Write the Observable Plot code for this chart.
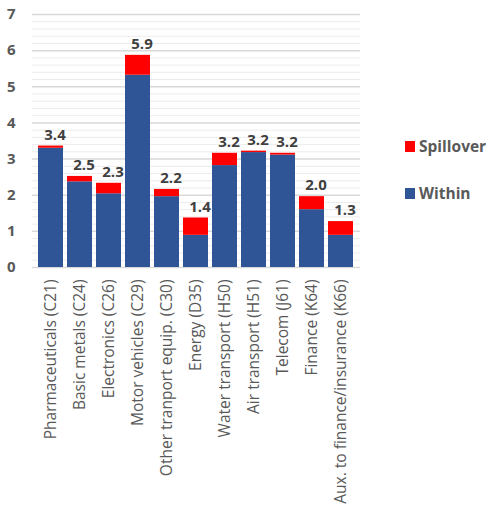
<!DOCTYPE html>
<html>
<head>
<meta charset="utf-8">
<script src="https://cdn.jsdelivr.net/npm/d3@7"></script>
<script src="https://cdn.jsdelivr.net/npm/@observablehq/plot@0.6"></script>
<style>
  html, body { margin: 0; padding: 0; background: #fff; }
  #wrap { position: relative; width: 489px; height: 509px; font-family: "Open Sans", sans-serif; overflow: hidden; }
  #legend { position: absolute; left: 405px; top: 135px; color: #595959; font-weight: bold; font-size: 15.5px; }
  #legend .item { display: flex; align-items: center; height: 22px; margin-bottom: 25px; }
  #legend .sw { width: 10px; height: 11px; margin-right: 4px; }
</style>
</head>
<body>
<div id="wrap"><div id="legend"></div></div>
<script>
const sectors = [
  "Pharmaceuticals (C21)",
  "Basic metals (C24)",
  "Electronics (C26)",
  "Motor vehicles (C29)",
  "Other tranport equip. (C30)",
  "Energy (D35)",
  "Water transport (H50)",
  "Air transport (H51)",
  "Telecom (J61)",
  "Finance (K64)",
  "Aux. to finance/insurance (K66)"
];
const within    = [3.30, 2.37, 2.04, 5.32, 1.96, 0.89, 2.82, 3.18, 3.11, 1.60, 0.89];
const spillover = [0.06, 0.15, 0.29, 0.55, 0.20, 0.48, 0.34, 0.04, 0.05, 0.36, 0.38];
const seriesNames = ["Spillover", "Within"];
const seriesColors = {Within: "#2F5597", Spillover: "#FF0000"};
const yTicks = [0, 1, 2, 3, 4, 5, 6, 7];

const rows = [
  ...sectors.map((s, i) => ({sector: s, series: "Within", value: within[i]})),
  ...sectors.map((s, i) => ({sector: s, series: "Spillover", value: spillover[i]}))
];
const totals = sectors.map((s, i) => ({sector: s, total: within[i] + spillover[i]}));
const minorTicks = d3.range(0, 35).map(k => k / 5).filter(v => !Number.isInteger(v));

const chart = Plot.plot({
  width: 489,
  height: 509,
  marginTop: 14,
  marginBottom: 242,
  marginLeft: 32,
  marginRight: 129,
  style: {fontFamily: "'Open Sans', sans-serif", background: "#fff"},
  x: {domain: sectors, padding: 0.13, label: null},
  y: {domain: [0, 7], label: null},
  color: {domain: ["Within", "Spillover"], range: [seriesColors.Within, seriesColors.Spillover]},
  marks: [
    Plot.ruleY(minorTicks, {stroke: "#ECECEC", strokeWidth: 1}),
    Plot.ruleY(yTicks, {stroke: "#D9D9D9", strokeWidth: 1.5}),
    Plot.barY(rows, {x: "sector", y: "value", fill: "series"}),
    Plot.text(totals, {
      x: "sector", y: "total", text: d => d.total.toFixed(1),
      dy: -11, dx: 4, fontSize: 15, fontWeight: "bold", fill: "#404040"
    }),
    Plot.axisY({
      ticks: yTicks, tickSize: 0, tickPadding: 17, tickFormat: d => String(d),
      fontSize: 15, fontWeight: "bold", fill: "#595959"
    }),
    Plot.axisX({
      tickSize: 0, tickRotate: -90, tickPadding: 12,
      fontSize: 15.5, fill: "#595959"
    })
  ]
});
document.getElementById("wrap").prepend(chart);

const legend = document.getElementById("legend");
for (const name of seriesNames) {
  const item = document.createElement("div");
  item.className = "item";
  const sw = document.createElement("span");
  sw.className = "sw";
  sw.style.background = seriesColors[name];
  const label = document.createElement("span");
  label.textContent = name;
  item.append(sw, label);
  legend.append(item);
}
</script>
</body>
</html>
